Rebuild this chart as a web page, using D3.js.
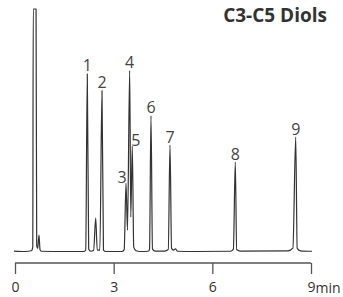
<!DOCTYPE html>
<html>
<head>
<meta charset="utf-8">
<script src="https://cdn.jsdelivr.net/npm/d3@7"></script>
<style>
  html, body { margin: 0; padding: 0; background: #fff; }
  svg { display: block; }
  text { font-family: "Open Sans", sans-serif; }
</style>
</head>
<body>
<svg id="chart" width="343" height="297"></svg>
<script>
/* ---------------- DATA ---------------- */
// trace: [time (min), signal]
const trace = [
  [-0.03, 0.4], [0.3, 0.2], [0.5, 0.5], [0.54, 2], [0.555, 100], [0.64, 100],
  [0.66, 2.5], [0.69, 1.5], [0.73, 7], [0.76, 1], [0.8, 0.3],
  [1.5, 0.2], [2.1, 0.2], [2.15, 0.8], [2.198, 73.3], [2.24, 1.2], [2.3, 0.3],
  [2.39, 0.6], [2.454, 14], [2.5, 0.8], [2.58, 0.8], [2.645, 66.4], [2.69, 0.8],
  [2.76, 0.2], [3.25, 0.2], [3.32, 1], [3.375, 28.4], [3.42, 9], [3.487, 74.6],
  [3.52, 14.4], [3.566, 43.6], [3.61, 2], [3.68, 0.5], [3.8, 0.2],
  [4.05, 0.3], [4.09, 1], [4.135, 56], [4.18, 1.2], [4.26, 0.4], [4.55, 0.4],
  [4.66, 1], [4.713, 44], [4.76, 1.5], [4.82, 0.8], [4.88, 1.3], [4.94, 0.3],
  [5.5, 0.2], [6.55, 0.3], [6.64, 1.2], [6.698, 37], [6.74, 1], [6.85, 0.4],
  [8.3, 0.5], [8.45, 1.6], [8.535, 47.3], [8.58, 1.5], [8.68, 0.5], [9.03, 0.3]
];

const peakLabels = ["1", "2", "3", "4", "5", "6", "7", "8", "9"];
const peakTimes = [2.198, 2.645, 3.375, 3.487, 3.566, 4.135, 4.713, 6.698, 8.535];
const peakHeights = [73.3, 66.4, 28.4, 74.6, 43.6, 56, 44, 37, 47.3];

const xTicks = [0, 3, 6, 9];
const title = "C3-C5 Diols";

/* ---------------- SCALES ---------------- */
const svg = d3.select("#chart");
const x = d3.scaleLinear().domain([0, 9]).range([15, 311]);
const y = d3.scaleLinear().domain([0, 100]).range([252, 9]);

/* ---------------- TRACE ---------------- */
const line = d3.line()
  .x(d => x(d[0]))
  .y(d => y(d[1]))
  .curve(d3.curveMonotoneX);

svg.append("path")
  .datum(trace)
  .attr("d", line)
  .attr("fill", "none")
  .attr("stroke", "#333")
  .attr("stroke-width", 1.2)
  .attr("stroke-linejoin", "round");

/* ---------------- PEAK LABELS ---------------- */
// a couple of labels sit beside their peak instead of above it
const nudge = { "3": [-4, 0], "5": [3.5, 0] };

svg.selectAll(".peak-label")
  .data(peakLabels)
  .enter()
  .append("text")
  .attr("class", "peak-label")
  .attr("x", (d, i) => x(peakTimes[i]) + (nudge[d] ? nudge[d][0] : 0))
  .attr("y", (d, i) => y(peakHeights[i]) - (nudge[d] ? 0 : 2.5))
  .attr("text-anchor", "middle")
  .attr("font-size", 16)
  .attr("fill", "#444")
  .text(d => d);

/* ---------------- AXIS ---------------- */
const axis = d3.axisBottom(x)
  .tickValues(xTicks)
  .tickSize(11)
  .tickPadding(8)
  .tickFormat(d3.format("d"));

const axisG = svg.append("g")
  .attr("transform", "translate(0,263)")
  .call(axis);

axisG.select(".domain")
  .attr("d", `M${x(0)},0H${x(9)}`)
  .attr("stroke", "#555")
  .attr("stroke-width", 1.3);
axisG.selectAll(".tick line").attr("stroke", "#555").attr("stroke-width", 1.3);
axisG.selectAll(".tick text")
  .attr("font-family", "Open Sans, sans-serif")
  .attr("font-size", 14)
  .attr("fill", "#333");

svg.append("text")
  .attr("x", x(9) + 4.5)
  .attr("y", 293)
  .attr("font-size", 14)
  .attr("fill", "#333")
  .text("min");

/* ---------------- TITLE ---------------- */
svg.append("text")
  .attr("x", 327)
  .attr("y", 22)
  .attr("text-anchor", "end")
  .attr("font-size", 19)
  .attr("font-weight", "bold")
  .attr("fill", "#333")
  .text(title);
</script>
</body>
</html>
